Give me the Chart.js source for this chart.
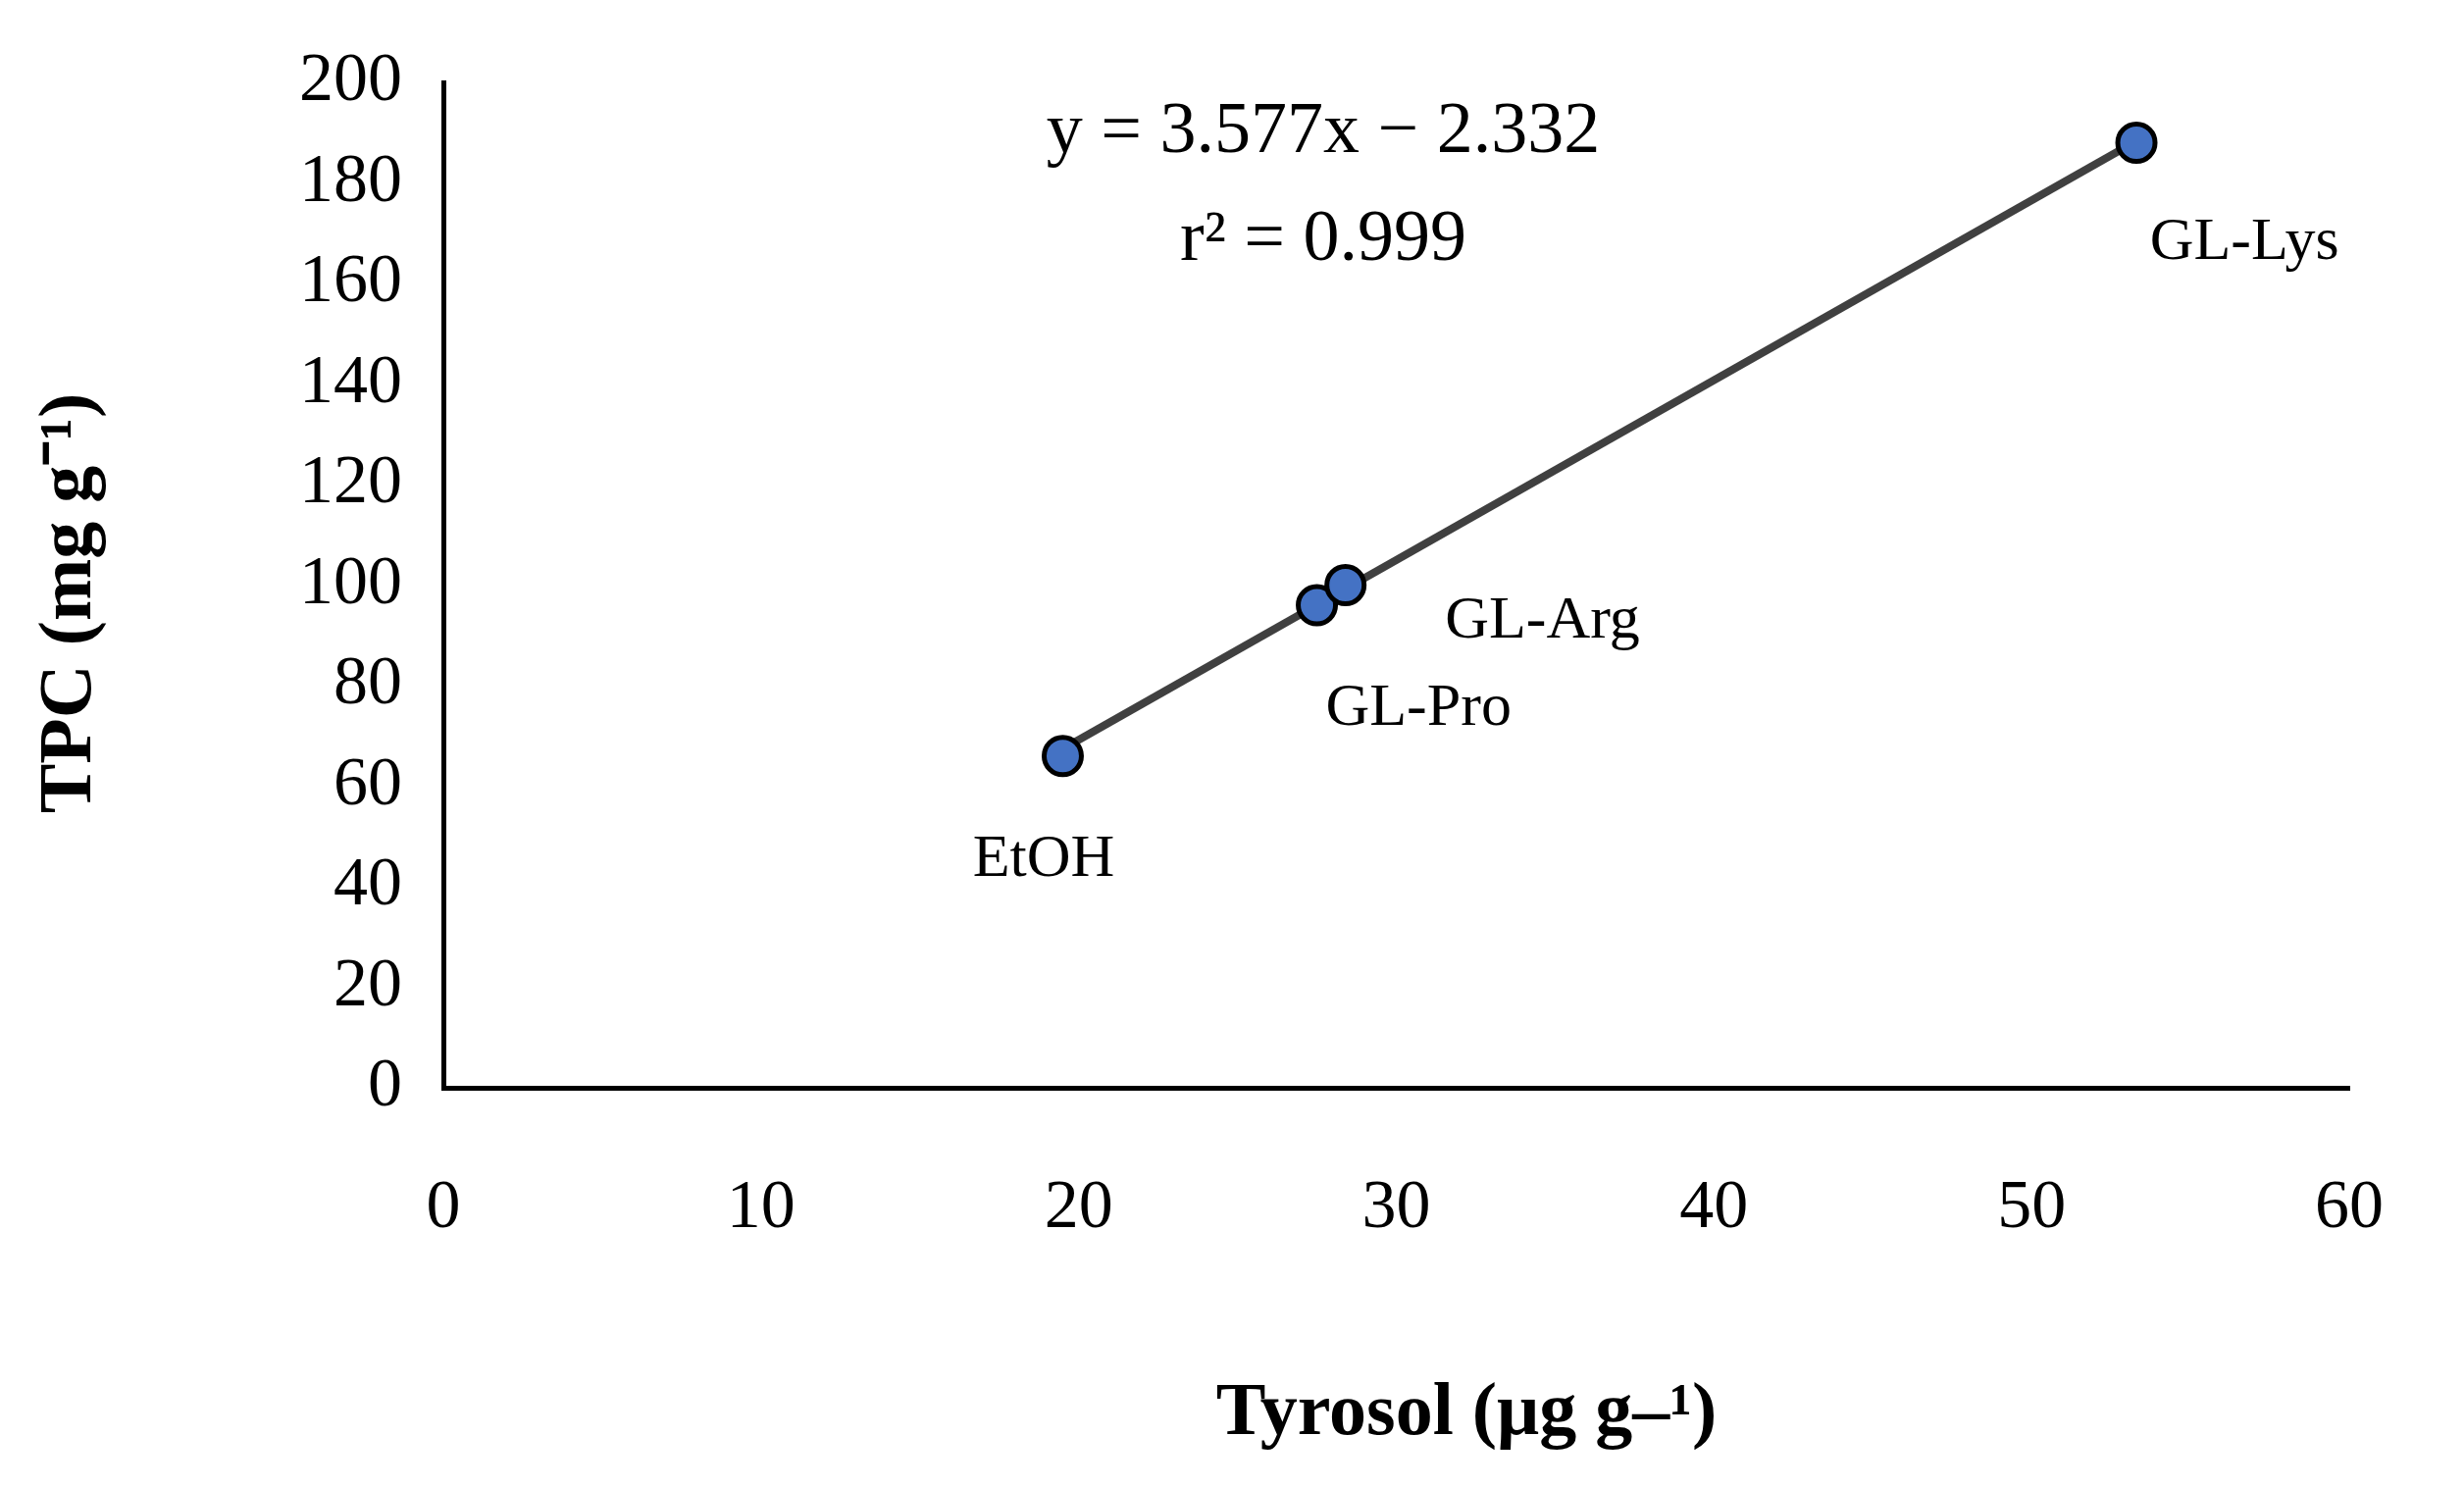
<!DOCTYPE html>
<html><head><meta charset="utf-8">
<script src="https://cdn.jsdelivr.net/npm/chart.js@4/dist/chart.umd.min.js"></script>
<style>html,body{margin:0;padding:0;background:#fff}#c{display:block}</style>
</head><body>
<canvas id="c" width="2512" height="1516"></canvas>
<script>
const sampleNames = ["EtOH","GL-Pro","GL-Arg","GL-Lys"];
const tyrosol = [19.5, 27.5, 28.4, 53.3];
const tpc = [66, 96, 100, 188];
const slope = 3.577, intercept = -2.332;
const labelX = [18.9, 30.7, 34.6, 56.7];
const labelY = [45.4, 75.4, 92.7, 168];
const xTicks = [0,10,20,30,40,50,60];
const yTicks = [0,20,40,60,80,100,120,140,160,180,200];

const FONT = '"Liberation Serif", serif';
const points = tyrosol.map((x,i)=>({x, y:tpc[i]}));
const xmin = Math.min(...tyrosol), xmax = Math.max(...tyrosol);
const trend = [{x:xmin,y:slope*xmin+intercept},{x:xmax,y:slope*xmax+intercept}];

const textPlugin = {
  id:'texts',
  afterDraw(chart){
    const {ctx, scales:{x,y}} = chart;
    ctx.save();
    ctx.fillStyle='#000';
    ctx.textAlign='center'; ctx.textBaseline='middle';
    ctx.font = '62px '+FONT;
    sampleNames.forEach((n,i)=>ctx.fillText(n, x.getPixelForValue(labelX[i]), y.getPixelForValue(labelY[i])));
    ctx.font = '74px '+FONT;
    ctx.fillText('y = 3.577x − 2.332', x.getPixelForValue(27.7), y.getPixelForValue(190));
    ctx.fillText('r² = 0.999', x.getPixelForValue(27.7), y.getPixelForValue(168.5));
    ctx.font = 'bold 76px '+FONT;
    ctx.fillText('Tyrosol (μg g–¹)', 1495, 1442);
    ctx.translate(72, 615); ctx.rotate(-Math.PI/2);
    ctx.fillText('TPC (mg g⁻¹)', 0, 0);
    ctx.restore();
  }
};

new Chart(document.getElementById('c'), {
  type:'scatter',
  data:{datasets:[
    {type:'line', data:trend, borderColor:'#404040', borderWidth:8, pointRadius:0, fill:false, order:2},
    {data:points, backgroundColor:'#4472C4', borderColor:'#000', borderWidth:5, pointRadius:19, order:1}
  ]},
  options:{
    responsive:false, animation:false, devicePixelRatio:1,
    layout:{padding:{top:72,right:30,left:0,bottom:0}},
    plugins:{legend:{display:false}, tooltip:{enabled:false}},
    scales:{
      x:{type:'linear', min:0, max:60,
        afterBuildTicks(s){s.ticks = xTicks.map(v=>({value:v}));},
        afterFit(s){s.height = 407;},
        grid:{display:false, drawTicks:false},
        border:{display:true, color:'#000', width:5},
        ticks:{color:'#000', font:{family:FONT, size:70}, padding:82, maxRotation:0}},
      y:{type:'linear', min:0, max:200,
        afterBuildTicks(s){s.ticks = yTicks.map(v=>({value:v}));},
        afterFit(s){s.width = 452;},
        grid:{display:false, drawTicks:false},
        border:{display:true, color:'#000', width:5},
        ticks:{color:'#000', font:{family:FONT, size:70}, padding:42}}
    }
  },
  plugins:[textPlugin]
});
</script>
</body></html>
